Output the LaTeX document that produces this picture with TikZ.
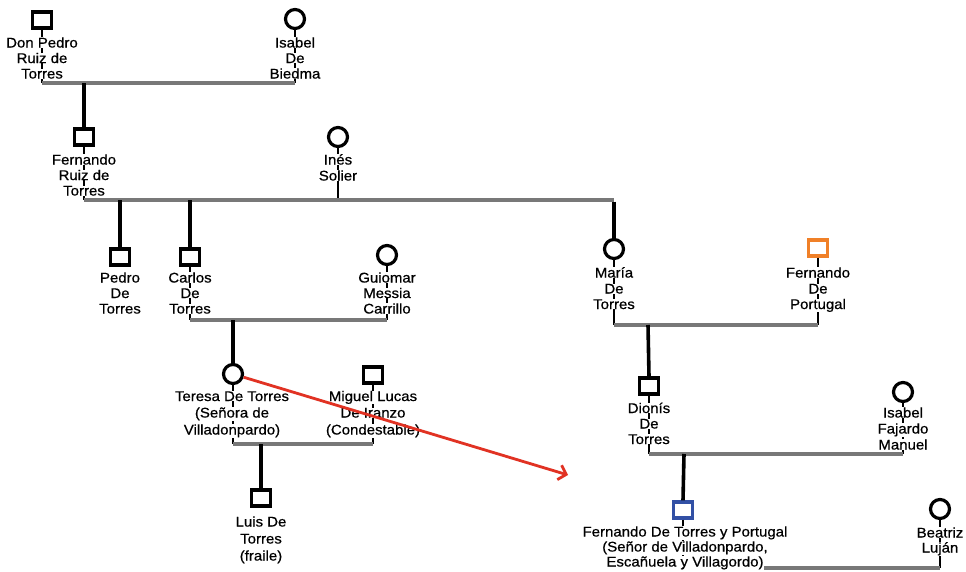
\documentclass[tikz,border=0pt]{standalone}
\usepackage{fontspec}
\newfontfamily\lab{Liberation Sans}[FakeStretch=1.07,FakeBold=0.6]
\usetikzlibrary{arrows.meta}
\definecolor{mgray}{RGB}{120,120,120}
\definecolor{orng}{RGB}{240,128,40}
\definecolor{blu}{RGB}{50,80,165}
\definecolor{redarr}{RGB}{225,50,35}
\begin{document}
\begin{tikzpicture}[x=1pt,y=-1pt,
  male/.style={draw, rectangle, line width=3.2pt, minimum width=19pt, minimum height=16pt, inner sep=0pt, fill=white},
  female/.style={draw, circle, line width=3.2pt, minimum size=19pt, inner sep=0pt, fill=white},
  lbl/.style={font=\lab\fontsize{14}{15}\selectfont, fill=white, inner sep=0.2pt, anchor=base},
  couple/.style={draw=mgray, line width=3.2pt},
  child/.style={draw=black, line width=3.6pt},
  tie/.style={draw=black, line width=2.2pt},
  hint/.style={draw=redarr, line width=2.8pt, -{Straight Barb[length=7pt,width=15pt,line width=2.8pt]}}]
\useasboundingbox[fill=white] (0,0) rectangle (966,571);

% symbols
\node[male]   (dp) at (42,20) {};
\node[female] (ib) at (295,19) {};
\node[male]   (fr) at (84,137) {};
\node[female] (is) at (338,137) {};
\node[male]   (pd) at (120,257) {};
\node[male]   (cd) at (190,257) {};
\node[female] (gm) at (387,255) {};
\node[female] (td) at (233,374) {};
\node[male]   (ml) at (373,375) {};
\node[male]   (ld) at (261,498) {};
\node[female] (md) at (614,249) {};
\node[male, draw=orng] (fp) at (818,248) {};
\node[male]   (dd) at (649,386) {};
\node[female] (if) at (903,392) {};
\node[male, draw=blu] (ft) at (683,510) {};
\node[female] (bl) at (940,509) {};

% union points
\coordinate (dpU) at (42,83);   \coordinate (ibU) at (295,83);  \coordinate (c1) at (84,83);
\coordinate (frU) at (84,200);  \coordinate (isU) at (338,200); \coordinate (mdU) at (614,200);
\coordinate (c2a) at (120,200); \coordinate (c2b) at (190,200);
\coordinate (cdU) at (190,320); \coordinate (gmU) at (387,320); \coordinate (c3) at (233,320);
\coordinate (tdU) at (233,444); \coordinate (mlU) at (373,444); \coordinate (c4) at (261,444);
\coordinate (mdV) at (614,325); \coordinate (fpU) at (818,325); \coordinate (c5) at (648,325);
\coordinate (ddU) at (649,454); \coordinate (ifU) at (903,454); \coordinate (c6) at (684,454);
\coordinate (ftU) at (683,568); \coordinate (blU) at (940,568);
\coordinate (arrEnd) at (568,475);

% ties from persons to their union line
\foreach \p/\u in {dp/dpU, ib/ibU, fr/frU, is/isU, cd/cdU, gm/gmU, td/tdU, ml/mlU, md/mdV, fp/fpU, dd/ddU, if/ifU, ft/ftU, bl/blU}
  \draw[tie] (\p.south) -- (\u);

% union lines
\draw[couple] (dpU) -- (ibU);
\draw[couple] (frU) -- (mdU);
\draw[couple] (cdU) -- (gmU);
\draw[couple] (tdU) -- (mlU);
\draw[couple] (mdV) -- (fpU);
\draw[couple] (ddU) -- (ifU);
\draw[couple] (ftU) -- (blU);

% children
\draw[child] (c1) -- (fr.north);
\draw[child] (c2a) -- (pd.north);
\draw[child] (c2b) -- (cd.north);
\draw[child] ([yshift=-1.6pt]mdU) -- (md.north);
\draw[child] (c3) -- (td.north);
\draw[child] (c4) -- (ld.north);
\draw[child] (c5) -- (dd.north);
\draw[child] (c6) -- (ft.north);

% labels
\node[lbl] (dp1) at (42,47.5) {Don Pedro};
\node[lbl] (dp2) at (42,63) {Ruiz de};
\node[lbl] (dp3) at (42,78.5) {Torres};
\node[lbl] (ib1) at (295,47.5) {Isabel};
\node[lbl] (ib2) at (295,63) {De};
\node[lbl] (ib3) at (295,78.5) {Biedma};
\node[lbl] (fr1) at (84,164.5) {Fernando};
\node[lbl] (fr2) at (84,180) {Ruiz de};
\node[lbl] (fr3) at (84,195.5) {Torres};
\node[lbl] (is1) at (338,164.5) {Inés};
\node[lbl] (is2) at (338,180.5) {Solier};
\node[lbl] (pd1) at (120,282.5) {Pedro};
\node[lbl] (pd2) at (120,298) {De};
\node[lbl] (pd3) at (120,313.5) {Torres};
\node[lbl] (cd1) at (190,282.5) {Carlos};
\node[lbl] (cd2) at (190,298) {De};
\node[lbl] (cd3) at (190,313.5) {Torres};
\node[lbl] (gm1) at (387,282.5) {Guiomar};
\node[lbl] (gm2) at (387,298) {Messia};
\node[lbl] (gm3) at (387,313.5) {Carrillo};
\node[lbl] (td1) at (232,401) {Teresa De Torres};
\node[lbl] (td2) at (232,417.5) {(Señora de};
\node[lbl] (td3) at (232,434.5) {Villadonpardo)};
\node[lbl] (ml1) at (373,401) {Miguel Lucas};
\node[lbl] (ml2) at (373,417.5) {De Iranzo};
\node[lbl] (ml3) at (373,434.5) {(Condestable)};
\node[lbl] (ld1) at (261,526.5) {Luis De};
\node[lbl] (ld2) at (261,543.5) {Torres};
\node[lbl] (ld3) at (261,560.5) {(fraile)};
\node[lbl] (md1) at (614,277.5) {María};
\node[lbl] (md2) at (614,293.5) {De};
\node[lbl] (md3) at (614,309) {Torres};
\node[lbl] (fp1) at (818,277.5) {Fernando};
\node[lbl] (fp2) at (818,293.5) {De};
\node[lbl] (fp3) at (818,309) {Portugal};
\node[lbl] (dd1) at (649,413) {Dionís};
\node[lbl] (dd2) at (649,428.5) {De};
\node[lbl] (dd3) at (649,444) {Torres};
\node[lbl] (if1) at (903,417.5) {Isabel};
\node[lbl] (if2) at (903,433.5) {Fajardo};
\node[lbl] (if3) at (903,449.5) {Manuel};
\node[lbl] (ft1) at (685,536.5) {Fernando De Torres y Portugal};
\node[lbl] (ft2) at (685,551.5) {(Señor de Villadonpardo,};
\node[lbl] (ft3) at (685,566.5) {Escañuela y Villagordo)};
\node[lbl] (bl1) at (940,537.5) {Beatriz};
\node[lbl] (bl2) at (940,552.5) {Luján};

% red hint arrow
\draw[hint] (td) -- (arrEnd);
\end{tikzpicture}
\end{document}
